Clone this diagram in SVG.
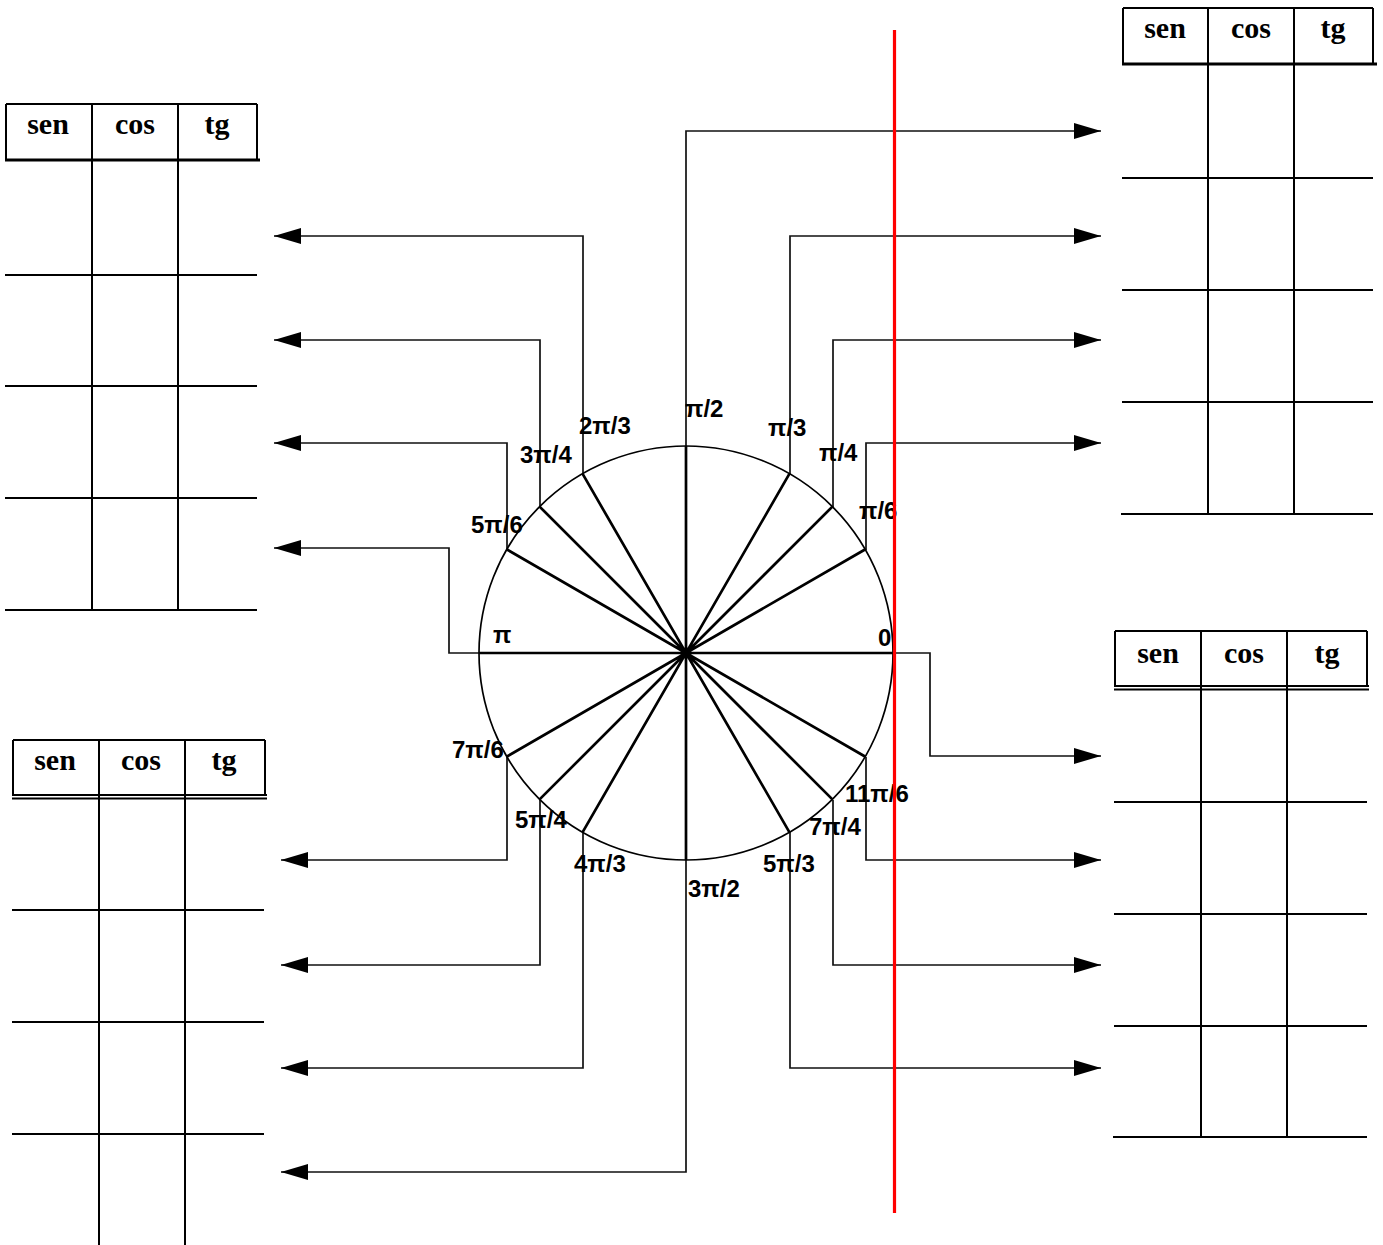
<svg xmlns="http://www.w3.org/2000/svg" width="1383" height="1245" viewBox="0 0 1383 1245">
<style>
.hd{font-family:"Liberation Serif","Times New Roman",serif;font-weight:bold;font-size:30px;fill:#000;text-anchor:middle}
.lb{font-family:"Liberation Sans",Arial,sans-serif;font-weight:bold;font-size:24px;fill:#000}
.tl{stroke:#000;stroke-width:2;fill:none}
.th{stroke:#000;stroke-width:3;fill:none}
.cn{stroke:#111;stroke-width:1.7;fill:none}
.ray{stroke:#000;stroke-width:2.7;fill:none}
</style>
<defs>
<marker id="ah" markerUnits="userSpaceOnUse" markerWidth="28" markerHeight="18" refX="27" refY="8" orient="auto">
<path d="M0,0 L27,8 L0,16 z" fill="#000"/>
</marker>
</defs>
<rect width="1383" height="1245" fill="#fff"/>

<g id="table-top-left">
<path class="tl" d="M6,104 H257 M6,104 V160 M257,104 V160 M92,104 V610 M178,104 V610 M5,275 H257 M5,386 H257 M5,498 H257 M5,610 H257"/>
<path class="th" d="M5,160 H260"/>
<text class="hd" x="48" y="134">sen</text><text class="hd" x="135" y="134">cos</text><text class="hd" x="217" y="134">tg</text>
</g>

<g id="table-top-right">
<path class="tl" d="M1123,8 H1373 M1123,8 V64 M1373,8 V64 M1208,8 V514 M1294,8 V514 M1122,178 H1373 M1122,290 H1373 M1122,402 H1373 M1121,514 H1373"/>
<path class="th" d="M1122,64 H1377"/>
<text class="hd" x="1165" y="38">sen</text><text class="hd" x="1251" y="38">cos</text><text class="hd" x="1333" y="38">tg</text>
</g>

<g id="table-mid-right">
<path class="tl" d="M1115,631 H1367 M1115,631 V686 M1367,631 V686 M1201,631 V1137 M1287,631 V1137 M1114,802 H1367 M1114,914 H1367 M1114,1026 H1367 M1113,1137 H1367"/>
<path class="tl" d="M1114,686 H1369 M1114,689.5 H1369" stroke-width="1.8"/>
<text class="hd" x="1158" y="663">sen</text><text class="hd" x="1244" y="663">cos</text><text class="hd" x="1327" y="663">tg</text>
</g>

<g id="table-bottom-left">
<path class="tl" d="M13,740 H265 M13,740 V795 M265,740 V795 M99,740 V1245 M185,740 V1245 M12,910 H264 M12,1022 H264 M12,1134 H264"/>
<path class="tl" d="M12,795 H267 M12,798.5 H267" stroke-width="1.8"/>
<text class="hd" x="55" y="770">sen</text><text class="hd" x="141" y="770">cos</text><text class="hd" x="224" y="770">tg</text>
</g>

<g id="connectors">
<path class="cn" marker-end="url(#ah)" d="M686,446 V131 H1101"/>
<path class="cn" marker-end="url(#ah)" d="M790,474 V236 H1101"/>
<path class="cn" marker-end="url(#ah)" d="M833,507 V340 H1101"/>
<path class="cn" marker-end="url(#ah)" d="M866,550 V443 H1101" stroke-width="2.2"/>
<path class="cn" marker-end="url(#ah)" d="M893,653 H930 V756 H1101"/>
<path class="cn" marker-end="url(#ah)" d="M866,757 V860 H1101"/>
<path class="cn" marker-end="url(#ah)" d="M833,800 V965 H1101"/>
<path class="cn" marker-end="url(#ah)" d="M790,832 V1068 H1101"/>
<path class="cn" marker-end="url(#ah)" d="M583,474 V236 H274"/>
<path class="cn" marker-end="url(#ah)" d="M540,507 V340 H274"/>
<path class="cn" marker-end="url(#ah)" d="M507,550 V443 H274"/>
<path class="cn" marker-end="url(#ah)" d="M479,653 H449 V548 H274"/>
<path class="cn" marker-end="url(#ah)" d="M507,757 V860 H281"/>
<path class="cn" marker-end="url(#ah)" d="M540,800 V965 H281"/>
<path class="cn" marker-end="url(#ah)" d="M583,832 V1068 H281"/>
<path class="cn" marker-end="url(#ah)" d="M686,860 V1172 H281"/>
</g>

<g id="unit-circle">
<circle cx="686" cy="653" r="207" fill="none" stroke="#000" stroke-width="1.7"/>
<path class="ray" d="M479,653 H893 M686,446 V860 M865,549.5 L507,756.5 M832.4,506.6 L539.6,799.4 M789.5,473.7 L582.5,832.3 M582.5,473.7 L789.5,832.3 M539.6,506.6 L832.4,799.4 M507,549.5 L865,756.5"/>
</g>

<g id="labels">
<text class="lb" x="685" y="417">π/2</text>
<text class="lb" x="579" y="434">2π/3</text>
<text class="lb" x="768" y="436">π/3</text>
<text class="lb" x="520" y="463">3π/4</text>
<text class="lb" x="819" y="461">π/4</text>
<text class="lb" x="471" y="533">5π/6</text>
<text class="lb" x="859" y="519">π/6</text>
<text class="lb" x="493" y="643">π</text>
<text class="lb" x="878" y="646">0</text>
<text class="lb" x="452" y="758">7π/6</text>
<text class="lb" x="515" y="828">5π/4</text>
<text class="lb" x="574" y="872">4π/3</text>
<text class="lb" x="688" y="897">3π/2</text>
<text class="lb" x="763" y="872">5π/3</text>
<text class="lb" x="809" y="835">7π/4</text>
<text class="lb" x="845" y="802">11π/6</text>
</g>

<g id="red-line">
<line x1="894.5" y1="30" x2="894.5" y2="1213" stroke="#f00" stroke-width="3.2"/>
</g>
</svg>
